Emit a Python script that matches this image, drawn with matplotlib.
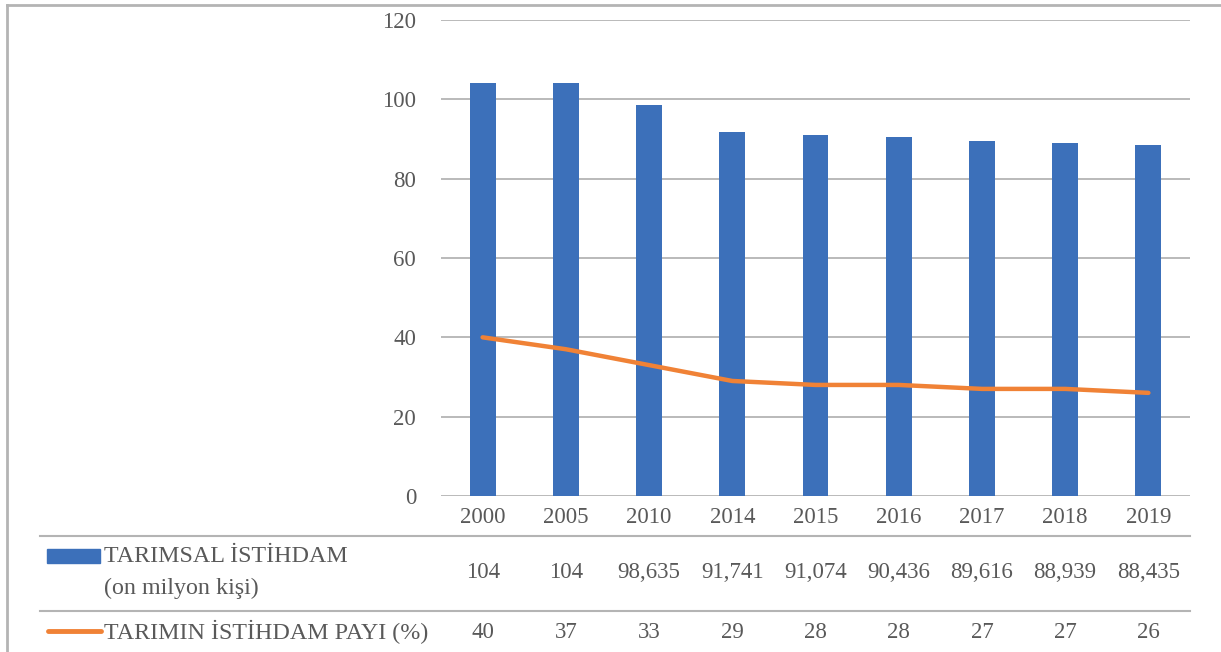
# Tarımsal istihdam: bars + share line with a data table underneath
import matplotlib.pyplot as plt
import matplotlib.transforms as mtransforms
from matplotlib.lines import Line2D
from matplotlib.patches import Rectangle
import numpy as np

######## Data ##########
years = ["2000", "2005", "2010", "2014", "2015", "2016", "2017", "2018", "2019"]
employment = [104, 104, 98.635, 91.741, 91.074, 90.436, 89.616, 88.939, 88.435]
employment_labels = ["104", "104", "98,635", "91,741", "91,074", "90,436", "89,616", "88,939", "88,435"]
share = [40, 37, 33, 29, 28, 28, 27, 27, 26]
yticks = [0, 20, 40, 60, 80, 100, 120]

bar_label = "TARIMSAL İSTİHDAM"
bar_label2 = "(on milyon kişi)"
line_label = "TARIMIN İSTİHDAM PAYI (%)"

######## Style #############
W, H = 1221, 652
blue = "#3C70BA"
orange = "#F08236"
grid = "#B4B4B4"
txt = "#595959"
plt.rcParams['font.family'] = ['Liberation Serif', 'DejaVu Serif']
fs = 16.5
fs_leg = 17.3

def fx(px):
    return px / W

def fy(py):
    return 1 - py / H

fig = plt.figure(figsize=(W / 100, H / 100), dpi=100)
ax = fig.add_axes([fx(441), fy(496), fx(1190) - fx(441), fy(20) - fy(496)])

x = np.arange(len(years))
ax.bar(x, employment, width=0.31, color=blue, zorder=2)
ax.plot(x, share, color=orange, linewidth=3.2, solid_capstyle='round',
        solid_joinstyle='round', zorder=3)

ax.set_xlim(-0.5, len(years) - 0.5)
ax.set_ylim(0, 120)
ax.set_yticks(yticks)
ax.set_yticklabels([str(v) for v in yticks], fontsize=fs, color=txt)
ax.set_xticks(x)
ax.set_xticklabels(years, fontsize=fs, color=txt)
ax.tick_params(axis='both', length=0)
ax.tick_params(axis='y', pad=18)
ax.tick_params(axis='x', pad=8)
ax.grid(axis='y', color=grid, linewidth=1.3, zorder=0)
for s in ax.spines.values():
    s.set_visible(False)

# outer frame (top and left edges visible)
fig.add_artist(Line2D([fx(7), 1], [fy(5), fy(5)], color=grid, linewidth=2))
fig.add_artist(Line2D([fx(7), fx(7)], [fy(5), 0], color=grid, linewidth=2))

# table lines
for yy in [536, 611]:
    fig.add_artist(Line2D([fx(40), fx(1190)], [fy(yy), fy(yy)], color=grid, linewidth=1.5))

# legend keys
fig.add_artist(Rectangle((fx(47), fy(563)), fx(100) - fx(47), fy(549) - fy(563),
                         color=blue, transform=fig.transFigure))
fig.add_artist(Line2D([fx(48), fx(101)], [fy(631), fy(631)], color=orange, linewidth=3.5,
                      solid_capstyle='round'))

fig.text(fx(104), fy(556), bar_label, fontsize=fs_leg, color=txt, va='center', ha='left')
fig.text(fx(104), fy(588), bar_label2, fontsize=fs_leg, color=txt, va='center', ha='left')
fig.text(fx(104), fy(632), line_label, fontsize=fs_leg, color=txt, va='center', ha='left')

# table values aligned with the categories
trans = mtransforms.blended_transform_factory(ax.transData, fig.transFigure)
for i in range(len(years)):
    ax.text(x[i], fy(573), employment_labels[i], transform=trans, fontsize=fs,
            color=txt, ha='center', va='center', clip_on=False)
    ax.text(x[i], fy(632), str(share[i]), transform=trans, fontsize=fs,
            color=txt, ha='center', va='center', clip_on=False)

plt.savefig('out.png', dpi=100)
